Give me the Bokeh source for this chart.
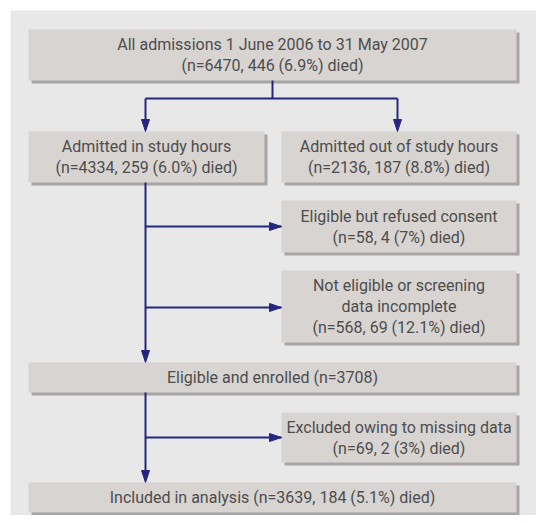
from bokeh.plotting import figure
from bokeh.models import Range1d, ColumnDataSource
from bokeh.core.properties import value
from bokeh.embed import file_html
from bokeh.resources import INLINE

# ---- data ----
stage_titles = [
    "All admissions 1 June 2006 to 31 May 2007",
    "Admitted in study hours",
    "Admitted out of study hours",
    "Eligible but refused consent",
    "Not eligible or screening|data incomplete",
    "Eligible and enrolled",
    "Excluded owing to missing data",
    "Included in analysis",
]
stage_n = [6470, 4334, 2136, 58, 568, 3708, 69, 3639]
stage_died = [446, 259, 187, 4, 69, None, 2, 184]
stage_pct = ["6.9", "6.0", "8.8", "7", "12.1", None, "3", "5.1"]
inline_counts = [False, False, False, False, False, True, False, True]

# ---- layout (image pixel coords) ----
boxes = [
    (28, 516, 29, 80),
    (28, 264, 131, 182),
    (281, 516, 131, 182),
    (281, 516, 200, 252),
    (281, 516, 270, 342),
    (28, 516, 362, 392),
    (281, 516, 412, 462),
    (28, 516, 482, 512),
]

def stat(i):
    if stage_died[i] is None:
        return "(n=%d)" % stage_n[i]
    return "(n=%d, %d (%s%%) died)" % (stage_n[i], stage_died[i], stage_pct[i])

lines_per_box = []
for i, t in enumerate(stage_titles):
    parts = t.split("|")
    if inline_counts[i]:
        parts[-1] = parts[-1] + " " + stat(i)
    else:
        parts.append(stat(i))
    lines_per_box.append(parts)

W, H = 536, 515
p = figure(width=W, height=H, output_backend="svg", toolbar_location=None,
           x_range=Range1d(0, W), y_range=Range1d(H, 0),
           min_border=0)
p.axis.visible = False
p.grid.visible = False
p.outline_line_color = None
p.background_fill_color = "white"
p.border_fill_color = "white"

# panel
p.quad(left=[10], right=[W], top=[10], bottom=[H], fill_color="#e8e8e8", line_color=None)

# shadows and boxes
sh = ColumnDataSource(dict(l=[b[0] + 3 for b in boxes], r=[b[1] + 3 for b in boxes],
                           t=[b[2] + 3 for b in boxes], b=[b[3] + 3 for b in boxes]))
p.quad(left="l", right="r", top="t", bottom="b", source=sh, fill_color="#a9a5a4", line_color=None)
bx = ColumnDataSource(dict(l=[b[0] for b in boxes], r=[b[1] for b in boxes],
                           t=[b[2] for b in boxes], b=[b[3] for b in boxes]))
p.quad(left="l", right="r", top="t", bottom="b", source=bx, fill_color="#d8d4d2", line_color=None)

# texts
tx, ty, tt = [], [], []
spacing = 21
for b, lines in zip(boxes, lines_per_box):
    cx = (b[0] + b[1]) / 2
    cy = (b[2] + b[3]) / 2
    n = len(lines)
    for k, s in enumerate(lines):
        tx.append(cx)
        ty.append(cy + (k - (n - 1) / 2) * spacing)
        tt.append(s)
p.text(x=tx, y=ty, text=tt, text_align="center", text_baseline="middle",
       text_font=value("Roboto"), text_font_size="16px", text_color="#4d4d4d")

# connectors
LC = "#25267e"
segs_x = [[272, 272], [145, 397], [145, 145], [397, 397], [145, 145], [145, 145],
          [145, 281], [145, 281], [145, 281]]
segs_y = [[80, 98], [98, 98], [98, 120], [98, 120], [182, 351], [392, 471],
          [226, 226], [307, 307], [437, 437]]
p.multi_line(xs=segs_x, ys=segs_y, line_color=LC, line_width=2)

# arrow heads (tip positions)
L, hw = 12, 4
heads = [(145, 131, "down"), (397, 131, "down"), (145, 362, "down"), (145, 482, "down"),
         (281, 226, "right"), (281, 307, "right"), (281, 437, "right")]
hx, hy = [], []
for x, y, d in heads:
    if d == "down":
        hx.append([x - hw, x + hw, x]); hy.append([y - L, y - L, y])
    else:
        hx.append([x - L, x - L, x]); hy.append([y - hw, y + hw, y])
p.patches(xs=hx, ys=hy, fill_color=LC, line_color=LC, line_width=1)

open("out.html", "w").write(file_html(p, INLINE))
